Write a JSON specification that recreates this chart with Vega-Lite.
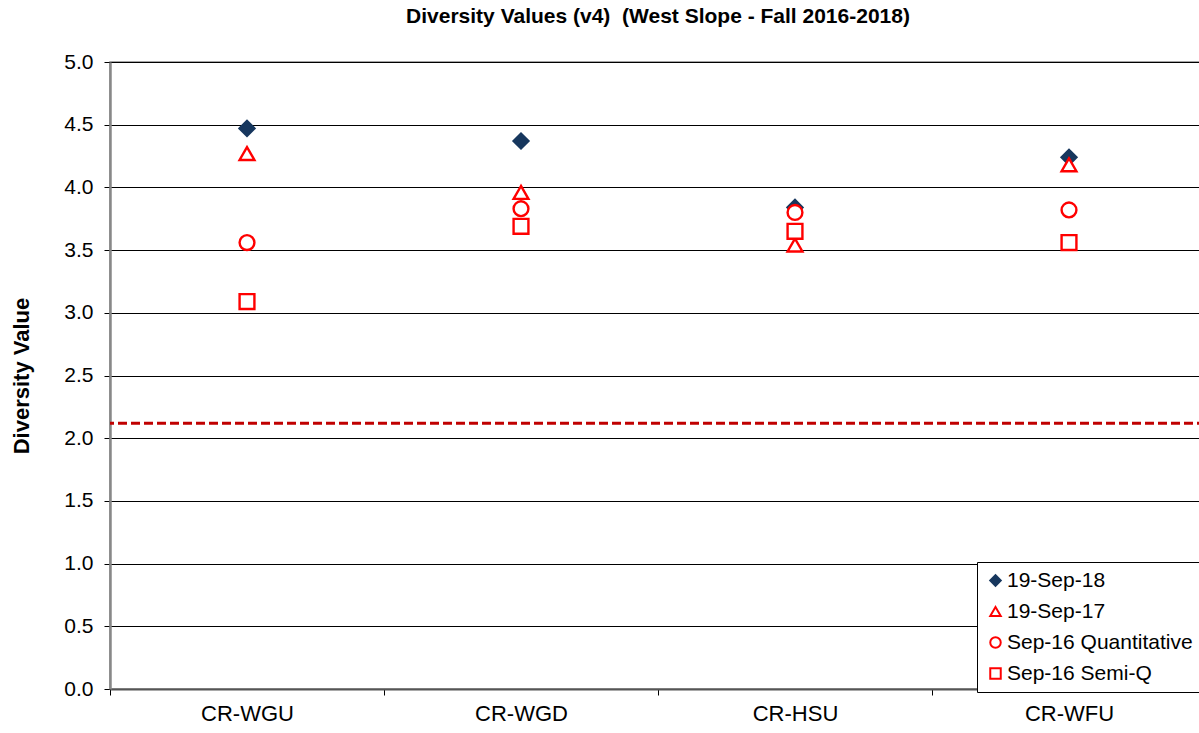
{
  "$schema": "https://vega.github.io/schema/vega-lite/v6.json",
  "autosize": {"type": "none"},
  "padding": {"left": 110, "top": 62, "right": 0, "bottom": 44},
  "width": 1096,
  "height": 627,
  "background": "white",
  "title": {"text": "Diversity Values (v4)\u00a0 (West Slope - Fall 2016-2018)", "font": "Liberation Sans", "fontSize": 21, "fontWeight": "bold", "color": "black", "anchor": "middle", "offset": 24},
  "config": {
    "view": {"stroke": "#888888", "strokeWidth": 1.5},
    "font": "Liberation Sans"
  },
  "datasets": {
    "pts": [
      {"site": "CR-WGU", "series": "19-Sep-18", "value": 4.47},
      {"site": "CR-WGU", "series": "19-Sep-17", "value": 4.27},
      {"site": "CR-WGU", "series": "Sep-16 Quantitative", "value": 3.56},
      {"site": "CR-WGU", "series": "Sep-16 Semi-Q", "value": 3.09},
      {"site": "CR-WGD", "series": "19-Sep-18", "value": 4.37},
      {"site": "CR-WGD", "series": "19-Sep-17", "value": 3.96},
      {"site": "CR-WGD", "series": "Sep-16 Quantitative", "value": 3.83},
      {"site": "CR-WGD", "series": "Sep-16 Semi-Q", "value": 3.69},
      {"site": "CR-HSU", "series": "19-Sep-18", "value": 3.84},
      {"site": "CR-HSU", "series": "19-Sep-17", "value": 3.54},
      {"site": "CR-HSU", "series": "Sep-16 Quantitative", "value": 3.80},
      {"site": "CR-HSU", "series": "Sep-16 Semi-Q", "value": 3.65},
      {"site": "CR-WFU", "series": "19-Sep-18", "value": 4.24},
      {"site": "CR-WFU", "series": "19-Sep-17", "value": 4.18},
      {"site": "CR-WFU", "series": "Sep-16 Quantitative", "value": 3.82},
      {"site": "CR-WFU", "series": "Sep-16 Semi-Q", "value": 3.56}
    ],
    "ref": [{"threshold": 2.12}]
  },
  "layer": [
    {
      "data": {"name": "pts"},
      "mark": {"type": "point", "filled": true, "size": 220, "strokeWidth": 2.4, "opacity": 1},
      "encoding": {
        "x": {
          "field": "site", "type": "nominal",
          "sort": ["CR-WGU", "CR-WGD", "CR-HSU", "CR-WFU"],
          "scale": {"type": "band", "paddingInner": 0, "paddingOuter": 0},
          "axis": {"title": null, "labelAngle": 0, "labelFontSize": 22, "labelColor": "black", "labelPadding": 8, "tickBand": "extent", "tickSize": 6, "tickColor": "black", "domainColor": "#555555", "domainWidth": 2, "grid": false}
        },
        "y": {
          "field": "value", "type": "quantitative",
          "scale": {"domain": [0, 5], "nice": false},
          "axis": {"title": "Diversity Value", "titleFontSize": 22, "titleFontWeight": "bold", "titleColor": "black", "titlePadding": 30, "values": [0, 0.5, 1, 1.5, 2, 2.5, 3, 3.5, 4, 4.5, 5], "format": ".1f", "labelFontSize": 21, "labelColor": "black", "labelPadding": 11, "tickSize": 6, "tickColor": "black", "domainColor": "#888888", "domainWidth": 2.5, "grid": true, "gridColor": "black", "gridWidth": 1, "gridOpacity": 1}
        },
        "shape": {
          "field": "series", "type": "nominal",
          "scale": {"domain": ["19-Sep-18", "19-Sep-17", "Sep-16 Quantitative", "Sep-16 Semi-Q"], "range": ["diamond", "triangle-up", "circle", "square"]},
          "legend": {"title": null, "orient": "none", "legendX": 867, "legendY": 500, "strokeColor": "black", "fillColor": "white", "padding": 8, "labelFontSize": 21, "labelLimit": 400, "labelColor": "black", "rowPadding": 9, "symbolSize": 110, "symbolStrokeWidth": 2, "labelOffset": 1, "cornerRadius": 0}
        },
        "fill": {
          "field": "series", "type": "nominal",
          "scale": {"domain": ["19-Sep-18", "19-Sep-17", "Sep-16 Quantitative", "Sep-16 Semi-Q"], "range": ["#17375E", "white", "white", "white"]},
          "legend": null
        },
        "stroke": {
          "field": "series", "type": "nominal",
          "scale": {"domain": ["19-Sep-18", "19-Sep-17", "Sep-16 Quantitative", "Sep-16 Semi-Q"], "range": ["#17375E", "#FF0000", "#FF0000", "#FF0000"]},
          "legend": null
        }
      }
    },
    {
      "data": {"name": "ref"},
      "mark": {"type": "rule", "color": "#C00000", "strokeWidth": 3, "strokeDash": [9, 4]},
      "encoding": {"y": {"field": "threshold", "type": "quantitative"}}
    }
  ]
}
